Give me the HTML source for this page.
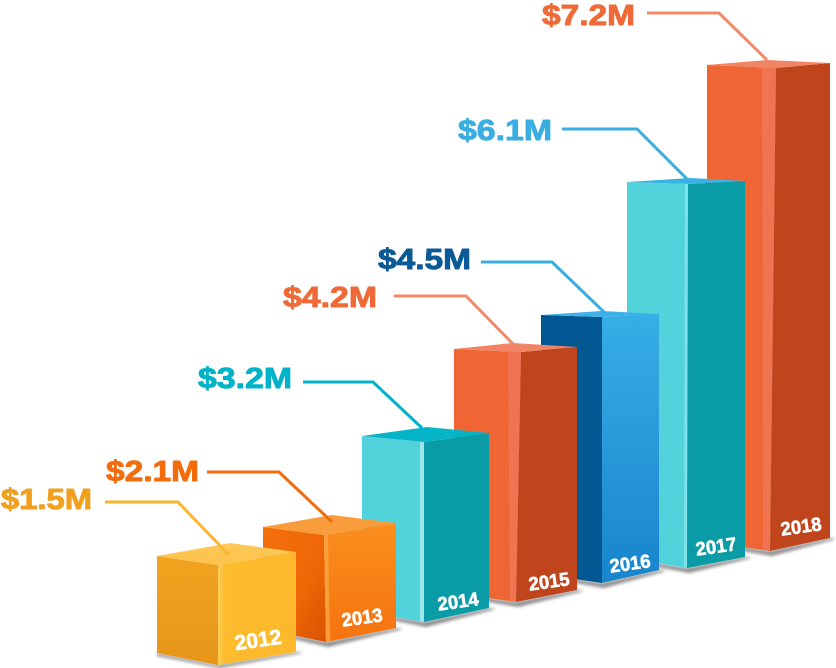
<!DOCTYPE html>
<html>
<head>
<meta charset="utf-8">
<style>
  html, body { margin:0; padding:0; background:#ffffff; }
  body { width:836px; height:668px; overflow:hidden; }
  svg { display:block; }
  text { font-family: "Liberation Sans", "DejaVu Sans", sans-serif; font-weight: bold; }
</style>
</head>
<body>
<svg width="836" height="668" viewBox="0 0 836 668" xmlns="http://www.w3.org/2000/svg">
  <defs>
    <filter id="sh" x="-20%" y="-200%" width="140%" height="500%">
      <feGaussianBlur stdDeviation="1.6"/>
    </filter>
    <linearGradient id="g12L" x1="0" y1="0" x2="0" y2="1">
      <stop offset="0" stop-color="#f1a41f"/>
      <stop offset="1" stop-color="#e8951a"/>
    </linearGradient>
    <linearGradient id="g12R" x1="0" y1="0" x2="1" y2="0">
      <stop offset="0" stop-color="#fdd05a"/>
      <stop offset="0.08" stop-color="#fdbb2e"/>
      <stop offset="1" stop-color="#fdb92b"/>
    </linearGradient>
    <linearGradient id="g12T" x1="0" y1="0" x2="0" y2="1">
      <stop offset="0" stop-color="#fdc95a"/>
      <stop offset="1" stop-color="#fdc24a"/>
    </linearGradient>
    <linearGradient id="g13L" x1="0" y1="0" x2="1" y2="1">
      <stop offset="0" stop-color="#f4700c"/>
      <stop offset="0.6" stop-color="#ef6606"/>
      <stop offset="1" stop-color="#d95200"/>
    </linearGradient>
    <linearGradient id="g13R" x1="0" y1="0" x2="0" y2="1">
      <stop offset="0" stop-color="#fa8f1e"/>
      <stop offset="1" stop-color="#f5730f"/>
    </linearGradient>
    <linearGradient id="g16R" x1="0" y1="0" x2="0" y2="1">
      <stop offset="0" stop-color="#37aee6"/>
      <stop offset="1" stop-color="#1884cc"/>
    </linearGradient>
  </defs>

  <!-- shadows -->
  <g filter="url(#sh)" fill="#000" opacity="0.45">
    <polygon points="707,542 770,551 830,538 836,539 772,556 707,545"/>
    <polygon points="627,558 687,568 745,557 752,558 689,573 627,561"/>
    <polygon points="541,574 602,583 659,570 666,571 604,588 541,577"/>
    <polygon points="454,593 516,602 577,590 584,591 518,607 454,596"/>
    <polygon points="362,611 424,622 489,608 496,609 426,627 362,614"/>
    <polygon points="263,629 326,642 396,628 403,629 328,647 263,632"/>
    <polygon points="157,653 218,665 296,652 303,653 220,668 157,656"/>
  </g>

  <!-- 2018 -->
  <polygon points="707,65 776,68 770,551 707,542" fill="#ef6533"/>
  <polygon points="762,67 776,68 770,551 763,550" fill="#f07452"/>
  <polygon points="776,68 830,63 830,538 770,551" fill="#c0451d"/>
  <polygon points="707,65 767,60 830,63 776,68" fill="#f08464"/>

  <!-- 2017 -->
  <polygon points="627,182 688,184 687,568 627,558" fill="#52d3dc"/>
  <polygon points="685,184 689,184 688,568 684,567" fill="#7fe2e8"/>
  <polygon points="688,184 745,181 745,557 687,568" fill="#0a9ca6"/>
  <polygon points="627,182 690,178 745,181 688,184" fill="#38b2e2"/>

  <!-- 2016 -->
  <polygon points="541,315 602,317 602,583 541,574" fill="#005792"/>
  <polygon points="602,317 659,314 659,570 602,583" fill="url(#g16R)"/>
  <polygon points="541,315 602,311 659,314 602,317" fill="#3cb2e8"/>

  <!-- 2015 -->
  <polygon points="454,349 521,352 516,602 454,593" fill="#ef6533"/>
  <polygon points="508,351 521,352 516,602 510,601" fill="#f07452"/>
  <polygon points="521,352 577,347 577,590 516,602" fill="#c0451d"/>
  <polygon points="454,349 513,343 577,347 521,352" fill="#f08464"/>

  <!-- 2014 -->
  <polygon points="362,436 424,442 424,622 362,611" fill="#52d3dc"/>
  <polygon points="420,442 425,442 425,622 420,621" fill="#9fe6ea"/>
  <polygon points="424,442 489,433 489,608 424,622" fill="#0a9ca6"/>
  <polygon points="362,436 427,427 489,433 424,442" fill="#06b4c8"/>

  <!-- 2013 -->
  <polygon points="263,527 324,535 326,642 263,629" fill="url(#g13L)"/>
  <polygon points="324,535 396,523 396,628 326,642" fill="url(#g13R)"/>
  <polygon points="324,535 328,535 330,641 326,642" fill="#fba640" opacity="0.8"/>
  <polygon points="263,527 332,515 396,523 324,535" fill="#f99c3c"/>

  <!-- 2012 -->
  <polygon points="157,556 218,565 218,665 157,653" fill="url(#g12L)"/>
  <polygon points="218,565 296,552 296,652 218,665" fill="url(#g12R)"/>
  <polygon points="157,556 230,543 296,552 218,565" fill="url(#g12T)"/>

  <!-- leader lines -->
  <g fill="none" stroke-width="3" stroke-linejoin="miter">
    <polyline points="647,13 719,13 767,60" stroke="#f08a6a"/>
    <polyline points="562,129 637,129 689,181" stroke="#3aaee0"/>
    <polyline points="481,262 552,262 605,313" stroke="#3aaee0"/>
    <polyline points="394,296 466,296 513,344" stroke="#f08a6a"/>
    <polyline points="303,382 373,382 422,428" stroke="#00b3c8"/>
    <polyline points="207,472 279,472 332,522" stroke="#f36c0c"/>
    <polyline points="105,502 178,502 229,555" stroke="#fbb631"/>
  </g>

  <!-- value labels -->
  <g stroke-width="0.9" stroke-linejoin="round">
  <text x="542" y="25" font-size="29" textLength="93" lengthAdjust="spacingAndGlyphs" fill="#f06a38" stroke="#f06a38">$7.2M</text>
  <text x="458" y="140" font-size="29" textLength="94" lengthAdjust="spacingAndGlyphs" fill="#3aaee0" stroke="#3aaee0">$6.1M</text>
  <text x="378" y="269" font-size="29" textLength="93" lengthAdjust="spacingAndGlyphs" fill="#0a5a96" stroke="#0a5a96">$4.5M</text>
  <text x="283" y="307" font-size="29" textLength="94" lengthAdjust="spacingAndGlyphs" fill="#f06a38" stroke="#f06a38">$4.2M</text>
  <text x="198" y="388" font-size="29" textLength="94" lengthAdjust="spacingAndGlyphs" fill="#00b3c8" stroke="#00b3c8">$3.2M</text>
  <text x="106" y="481" font-size="29" textLength="93" lengthAdjust="spacingAndGlyphs" fill="#f36c0c" stroke="#f36c0c">$2.1M</text>
  <text x="1" y="509" font-size="29" textLength="91" lengthAdjust="spacingAndGlyphs" fill="#f0a01e" stroke="#f0a01e">$1.5M</text>
  </g>

  <!-- year labels -->
  <g fill="#ffffff" stroke="#ffffff" stroke-width="0.6" text-anchor="middle">
    <text transform="translate(258,640) rotate(-8)" y="7" font-size="21" textLength="47" lengthAdjust="spacingAndGlyphs">2012</text>
    <text transform="translate(362,617) rotate(-8)" y="7" font-size="19" textLength="41" lengthAdjust="spacingAndGlyphs">2013</text>
    <text transform="translate(458,601) rotate(-8)" y="7" font-size="19" textLength="41" lengthAdjust="spacingAndGlyphs">2014</text>
    <text transform="translate(549,581) rotate(-8)" y="7" font-size="19" textLength="41" lengthAdjust="spacingAndGlyphs">2015</text>
    <text transform="translate(630,563) rotate(-8)" y="7" font-size="19" textLength="41" lengthAdjust="spacingAndGlyphs">2016</text>
    <text transform="translate(716,546) rotate(-8)" y="7" font-size="19" textLength="41" lengthAdjust="spacingAndGlyphs">2017</text>
    <text transform="translate(801,526) rotate(-8)" y="7" font-size="19" textLength="41" lengthAdjust="spacingAndGlyphs">2018</text>
  </g>
</svg>
</body>
</html>
